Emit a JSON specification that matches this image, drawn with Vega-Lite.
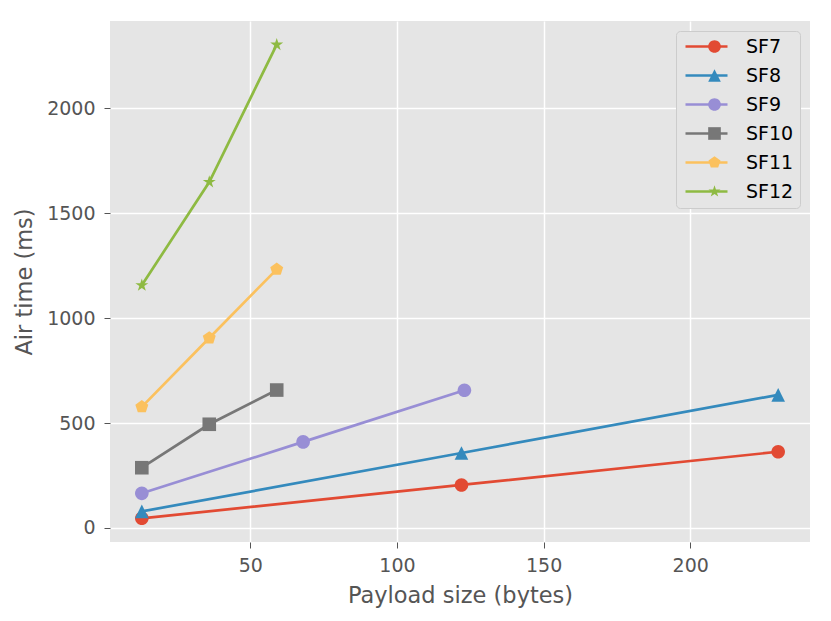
{
  "$schema": "https://vega.github.io/schema/vega-lite/v6.json",
  "width": 700,
  "height": 521,
  "autosize": {"type": "none"},
  "padding": {"left": 110, "top": 21, "right": 21, "bottom": 79},
  "data": {
    "values": [
      {"sf": "SF7", "payload": 13, "airtime": 46},
      {"sf": "SF7", "payload": 122, "airtime": 205},
      {"sf": "SF7", "payload": 230, "airtime": 363},
      {"sf": "SF8", "payload": 13, "airtime": 79},
      {"sf": "SF8", "payload": 122, "airtime": 357},
      {"sf": "SF8", "payload": 230, "airtime": 634},
      {"sf": "SF9", "payload": 13, "airtime": 165},
      {"sf": "SF9", "payload": 68, "airtime": 410},
      {"sf": "SF9", "payload": 123, "airtime": 656},
      {"sf": "SF10", "payload": 13, "airtime": 287},
      {"sf": "SF10", "payload": 36, "airtime": 494},
      {"sf": "SF10", "payload": 59, "airtime": 657},
      {"sf": "SF11", "payload": 13, "airtime": 577},
      {"sf": "SF11", "payload": 36, "airtime": 905},
      {"sf": "SF11", "payload": 59, "airtime": 1232},
      {"sf": "SF12", "payload": 13, "airtime": 1156},
      {"sf": "SF12", "payload": 36, "airtime": 1648},
      {"sf": "SF12", "payload": 59, "airtime": 2302}
    ]
  },
  "encoding": {
    "x": {
      "field": "payload",
      "type": "quantitative",
      "title": "Payload size (bytes)",
      "scale": {"domain": [2.15, 240.85], "nice": false, "zero": false},
      "axis": {"values": [50, 100, 150, 200]}
    },
    "y": {
      "field": "airtime",
      "type": "quantitative",
      "title": "Air time (ms)",
      "scale": {"domain": [-66.8, 2414.8], "nice": false, "zero": false},
      "axis": {"values": [0, 500, 1000, 1500, 2000], "format": "d"}
    }
  },
  "layer": [
    {
      "mark": {"type": "line", "strokeWidth": 2.7},
      "encoding": {
        "color": {
          "field": "sf",
          "type": "nominal",
          "scale": {
            "domain": ["SF7", "SF8", "SF9", "SF10", "SF11", "SF12"],
            "range": ["#E24A33", "#348ABD", "#988ED5", "#777777", "#FBC15E", "#8EBA42"]
          },
          "legend": {
            "title": null,
            "orient": "top-right",
            "offset": 10,
            "padding": 6,
            "fillColor": "#E5E5E5",
            "strokeColor": "#CCCCCC",
            "cornerRadius": 4,
            "labelFont": "DejaVu Sans",
            "labelFontSize": 19,
            "labelColor": "black",
            "symbolType": "M-3.5,0L3.5,0",
            "symbolSize": 144,
            "symbolStrokeWidth": 2.7,
            "symbolOffset": 15,
            "labelOffset": 30,
            "rowPadding": 9
          }
        }
      }
    },
    {
      "mark": {"type": "point", "filled": true, "opacity": 1, "size": 185},
      "encoding": {
        "fill": {
          "field": "sf",
          "type": "nominal",
          "scale": {
            "domain": ["SF7", "SF8", "SF9", "SF10", "SF11", "SF12"],
            "range": ["#E24A33", "#348ABD", "#988ED5", "#777777", "#FBC15E", "#8EBA42"]
          },
          "legend": null
        },
        "shape": {
          "field": "sf",
          "type": "nominal",
          "scale": {
            "domain": ["SF7", "SF8", "SF9", "SF10", "SF11", "SF12"],
            "range": [
              "M1,0A1,1,0,1,1,-1,0A1,1,0,1,1,1,0Z",
              "M0,-1L1,1L-1,1Z",
              "M1,0A1,1,0,1,1,-1,0A1,1,0,1,1,1,0Z",
              "M-1,-1L1,-1L1,1L-1,1Z",
              "M0,-1L0.951,-0.309L0.588,0.809L-0.588,0.809L-0.951,-0.309Z",
              "M0,-1L0.225,-0.309L0.951,-0.309L0.363,0.118L0.588,0.809L0,0.382L-0.588,0.809L-0.363,0.118L-0.951,-0.309L-0.225,-0.309Z"
            ]
          },
          "legend": {
            "title": null,
            "orient": "none",
            "legendX": 574,
            "legendY": 10,
            "padding": 6,
            "labelFont": "DejaVu Sans",
            "labelFontSize": 19,
            "labelExpr": "''",
            "symbolSize": 160,
            "symbolStrokeWidth": 0,
            "symbolOffset": 15,
            "labelOffset": 30,
            "rowPadding": 9
          }
        }
      }
    }
  ],
  "config": {
    "background": "white",
    "view": {"fill": "#E5E5E5", "stroke": null},
    "axis": {
      "grid": true,
      "gridColor": "white",
      "gridWidth": 1.5,
      "domain": false,
      "tickColor": "#555555",
      "tickSize": 6,
      "tickWidth": 1,
      "labelColor": "#555555",
      "labelFont": "DejaVu Sans",
      "labelFontSize": 19,
      "titleColor": "#555555",
      "titleFont": "DejaVu Sans",
      "titleFontSize": 22.5,
      "titleFontWeight": "normal"
    },
    "axisX": {"labelPadding": 8, "titlePadding": 9},
    "axisY": {"labelPadding": 9, "titlePadding": 10}
  }
}
